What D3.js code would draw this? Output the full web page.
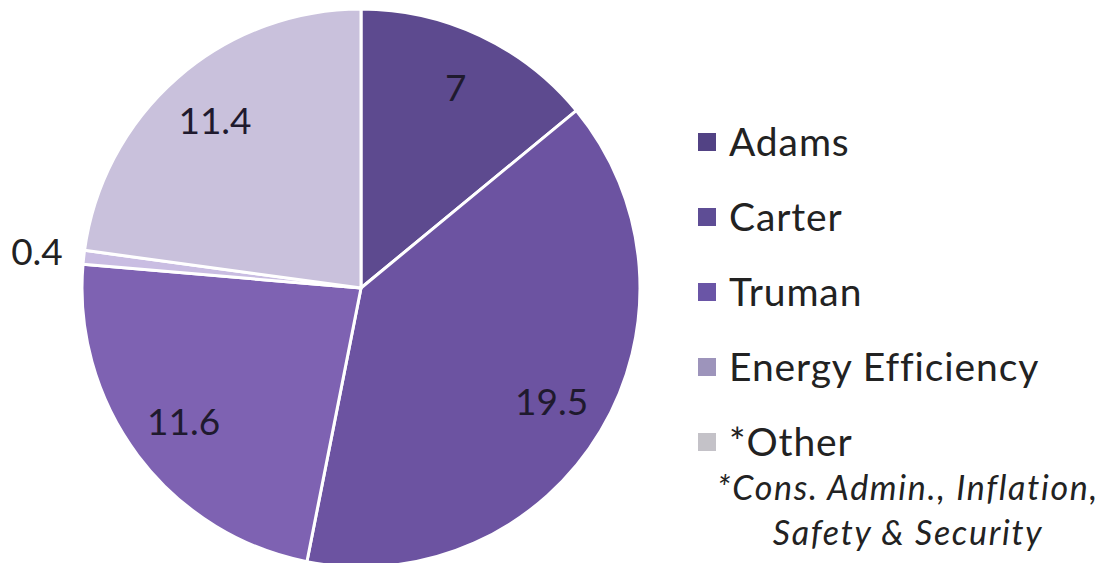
<!DOCTYPE html>
<html>
<head>
<meta charset="utf-8">
<script src="https://cdn.jsdelivr.net/npm/d3@7"></script>
<style>
  html, body { margin: 0; padding: 0; background: #fff; }
  svg { display: block; }
</style>
</head>
<body>
<svg id="chart" width="1118" height="563"></svg>
<script>
const categories = ["Adams", "Carter", "Truman", "Energy Efficiency", "*Other"];
const values = [7, 19.5, 11.6, 0.4, 11.4];
const labels = ["7", "19.5", "11.6", "0.4", "11.4"];
const sliceColors = ["#5d4a8f", "#6c53a1", "#7e62b2", "#c9bde2", "#c9c1dc"];
const legendColors = ["#524284", "#5e4d95", "#6a55a6", "#9d94bb", "#c4c2c8"];
const footnote = ["*Cons. Admin., Inflation,", "Safety & Security"];

const svg = d3.select("#chart");
const cx = 361, cy = 288, R = 279;

const pie = d3.pie().sort(null).value(d => d)(values);
const arc = d3.arc().innerRadius(0).outerRadius(R);
const labelArc = d3.arc().innerRadius(222).outerRadius(222);
const outerArc = d3.arc().innerRadius(326).outerRadius(326);

const g = svg.append("g").attr("transform", `translate(${cx},${cy})`);
g.selectAll("path.slice").data(pie).join("path")
  .attr("class", "slice")
  .attr("d", arc)
  .attr("fill", (d, i) => sliceColors[i])
  .attr("stroke", "#fff")
  .attr("stroke-width", 3)
  .attr("stroke-linejoin", "round");

g.selectAll("text.lbl").data(pie).join("text")
  .attr("class", "lbl")
  .attr("transform", (d, i) => {
    const p = values[i] < 1 ? outerArc.centroid(d) : labelArc.centroid(d);
    return `translate(${p[0]},${p[1]})`;
  })
  .attr("text-anchor", "middle")
  .attr("dy", "0.36em")
  .attr("font-family", "Lato, 'Open Sans', sans-serif")
  .attr("font-size", 37)
  .attr("fill", (d, i) => values[i] < 1 ? "#222" : "#1f1a2e")
  .text((d, i) => labels[i]);

// Legend
const lx = 698, ly0 = 142, step = 75, sw = 18;
const leg = svg.append("g");
const items = leg.selectAll("g").data(categories).join("g")
  .attr("transform", (d, i) => `translate(${lx},${ly0 + i * step})`);
items.append("rect")
  .attr("x", 0).attr("y", -sw / 2).attr("width", sw).attr("height", sw)
  .attr("fill", (d, i) => legendColors[i]);
items.append("text")
  .attr("x", 31).attr("y", 0).attr("dy", "0.36em")
  .attr("font-family", "Lato, 'Open Sans', sans-serif")
  .attr("font-size", 39)
  .attr("letter-spacing", 0.9)
  .attr("fill", "#222")
  .text(d => d);

svg.append("g").selectAll("text").data(footnote).join("text")
  .attr("x", 908)
  .attr("y", (d, i) => 500 + i * 45)
  .attr("text-anchor", "middle")
  .attr("font-family", "Lato, 'Open Sans', sans-serif")
  .attr("font-style", "italic")
  .attr("font-size", 34)
  .attr("letter-spacing", 1.7)
  .attr("fill", "#222")
  .text(d => d);
</script>
</body>
</html>
